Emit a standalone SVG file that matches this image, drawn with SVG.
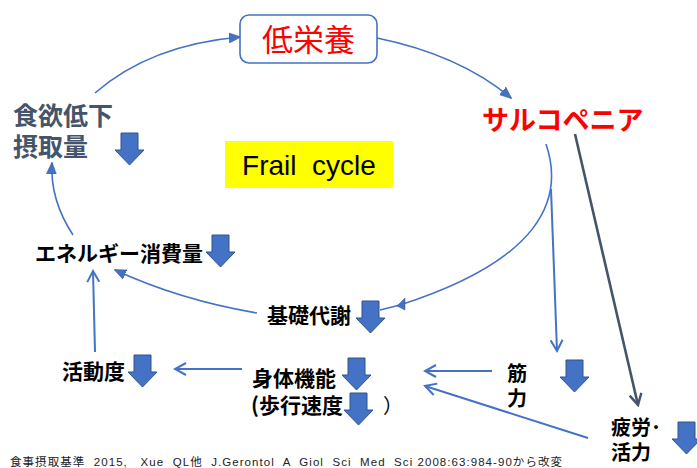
<svg xmlns="http://www.w3.org/2000/svg" xmlns:xlink="http://www.w3.org/1999/xlink" width="697" height="468" viewBox="0 0 697 468">
<style>
.jp{font-family:"Noto Sans CJK JP","Liberation Sans",sans-serif;font-weight:bold;fill:#000}
.red{fill:#FF0000}
.slate{fill:#44546A}
.conn{fill:none;stroke:#4472C4;stroke-width:1.6}
.conn2{fill:none;stroke:#4472C4;stroke-width:2}
.dark{fill:none;stroke:#44546A;stroke-width:2.6}
.barrow{fill:#4472C4;stroke:#2F528F;stroke-width:1}
</style>
<defs>
<path id="ba" class="barrow" d="M6,0 H23 V17 H29 L14.5,32 L0,17 H6 Z"/>
<marker id="tri" markerUnits="userSpaceOnUse" markerWidth="12" markerHeight="12" viewBox="0 0 12 12" refX="11" refY="6" orient="auto">
<path d="M0,1 L12,6 L0,11 Z" fill="#4472C4" stroke="#2F528F" stroke-width="0.5"/>
</marker>
<marker id="open" markerUnits="userSpaceOnUse" markerWidth="16" markerHeight="16" viewBox="0 0 16 16" refX="14" refY="8" orient="auto">
<path d="M3,2 L14,8 L3,14" fill="none" stroke="#4472C4" stroke-width="2"/>
</marker>
<marker id="openDark" markerUnits="userSpaceOnUse" markerWidth="16" markerHeight="16" viewBox="0 0 16 16" refX="14" refY="8" orient="auto">
<path d="M3,2 L14,8 L3,14" fill="none" stroke="#44546A" stroke-width="2.4"/>
</marker>
</defs>
<rect width="697" height="468" fill="#fff"/>

<g id="connectors">
<path class="conn" d="M95,93 Q150,45 240,37" marker-end="url(#tri)"/>
<path class="conn" d="M377,38 Q460,55 511,98" marker-end="url(#tri)"/>
<path class="conn" d="M73,235 Q50,200 52,163" marker-end="url(#tri)"/>
<path class="conn" d="M257,313 Q180,300 115,270" marker-end="url(#tri)"/>
<path class="conn" d="M546,144 C565,200 540,260 400,305 L380,310"/>
<path d="M397,306 L405,298 L405,310 Z" fill="#4472C4" stroke="#2F528F" stroke-width="0.5"/>
<path class="conn2" d="M95,352 L93,271" marker-end="url(#open)"/>
<path class="conn2" d="M242,369 L175,369" marker-end="url(#open)"/>
<path class="conn2" d="M492,371 L425,371" marker-end="url(#open)"/>
<path class="conn2" d="M588,438 L425,386" marker-end="url(#open)"/>
<path class="conn2" d="M551,189 L557,351" marker-end="url(#open)"/>
<path class="dark" d="M575,134 L638,405" marker-end="url(#openDark)"/>
</g>

<g id="node-teieiyou">
<rect x="240" y="15" width="137" height="48" rx="9" fill="#fff" stroke="#4472C4" stroke-width="1.6"/>
<text x="308.5" y="51" text-anchor="middle" font-size="31" font-family="'Noto Sans CJK JP','Liberation Sans',sans-serif" fill="#FF0000">低栄養</text>
</g>

<g id="node-sarcopenia">
<text x="482" y="130" class="jp red" font-size="27">サルコペニア</text>
</g>

<g id="node-frail">
<rect x="225" y="141" width="168" height="47" fill="#FFFF00"/>
<text x="309" y="175" text-anchor="middle" font-family="'Liberation Sans',Arial,sans-serif" font-size="28" fill="#000" xml:space="preserve">Frail  cycle</text>
</g>

<g id="node-shokuyoku">
<text x="13" y="125" class="jp slate" font-size="25">食欲低下</text>
<text x="13" y="156" class="jp slate" font-size="25">摂取量</text>
<use xlink:href="#ba" x="115" y="133"/>
</g>

<g id="node-energy">
<text x="35" y="261" class="jp" font-size="21">エネルギー消費量</text>
<use xlink:href="#ba" x="206" y="235"/>
</g>

<g id="node-katsudou">
<text x="62" y="379" class="jp" font-size="21">活動度</text>
<use xlink:href="#ba" x="128" y="355"/>
</g>

<g id="node-kiso">
<text x="267" y="323" class="jp" font-size="21">基礎代謝</text>
<use xlink:href="#ba" x="356" y="301"/>
</g>

<g id="node-shintai">
<text x="252" y="386" class="jp" font-size="21">身体機能</text>
<use xlink:href="#ba" x="342" y="358"/>
<text x="251" y="413" class="jp" font-size="21">(歩行速度</text>
<use xlink:href="#ba" x="344" y="393"/>
<text x="383" y="413" font-family="'Noto Sans CJK JP',sans-serif" font-size="20" fill="#000">）</text>
</g>

<g id="node-kinryoku">
<text x="507" y="381" class="jp" font-size="20">筋</text>
<text x="507" y="406" class="jp" font-size="20">力</text>
<use xlink:href="#ba" x="560" y="360"/>
</g>

<g id="node-hirou">
<text x="611" y="435" class="jp" font-size="20">疲労･</text>
<text x="611" y="460" class="jp" font-size="20">活力</text>
<use xlink:href="#ba" x="672" y="422"/>
</g>

<g id="footnote">
<text x="10" y="466" font-family="'Liberation Sans','Noto Sans CJK JP',sans-serif" font-size="11.5" fill="#222" textLength="552" lengthAdjust="spacing" xml:space="preserve">食事摂取基準  2015,   Xue  QL他  J.Gerontol  A  Giol  Sci  Med  Sci 2008:63:984-90から改変</text>
</g>
</svg>
